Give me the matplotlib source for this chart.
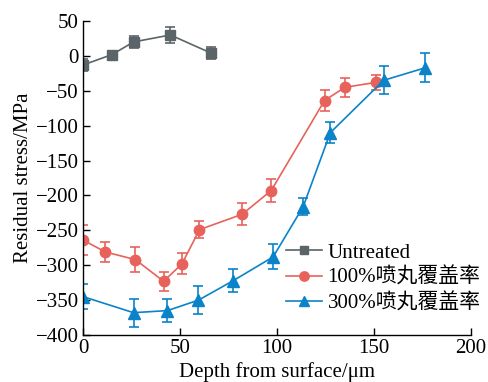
import matplotlib
matplotlib.use("Agg")
import matplotlib.pyplot as plt
from matplotlib.lines import Line2D

plt.rcParams['font.family'] = ['Liberation Serif', 'Noto Sans CJK SC']

# Untreated
x_un = [0, 15, 26, 45, 66]
y_un = [-13, 2, 20, 30, 4]
e_un = [9, 5, 8, 12, 9]

# 100% coverage
x_100 = [0, 11.5, 27, 41.5, 51, 60, 82, 97, 124.5, 135, 151]
y_100 = [-264, -281, -292, -323, -298, -249, -227, -193, -64, -45, -38]
e_100 = [21, 15, 18, 14, 15, 12, 16, 17, 15, 14, 11]

# 300% coverage
x_300 = [0, 26, 43.5, 59.5, 77.5, 98, 113.5, 127.5, 155, 176.5]
y_300 = [-345, -368, -365, -350, -322, -288, -216, -110, -35, -17]
e_300 = [18, 20, 16, 20, 16, 18, 12, 15, 20, 21]

labels = ['Untreated', '100%喷丸覆盖率', '300%喷丸覆盖率']
xticks = [0, 50, 100, 150, 200]
yticks = [-400, -350, -300, -250, -200, -150, -100, -50, 0, 50]

c_un = '#5b6468'
c_100 = '#e8625c'
c_300 = '#0a83c9'

fig = plt.figure(figsize=(4.89, 3.82), dpi=100)
ax = fig.add_axes([0.170, 0.123, 0.793, 0.822])

kw = dict(lw=1.2, elinewidth=1.2, capsize=3.5, capthick=1.2)
series = [(x_un, y_un, e_un, c_un, 's', 6.5),
          (x_100, y_100, e_100, c_100, 'o', 7.5),
          (x_300, y_300, e_300, c_300, '^', 8)]
handles = []
for (xs, ys, es, c, m, ms), lab in zip(series, labels):
    ax.errorbar(xs, ys, yerr=es, color=c, marker=m, ms=ms, **kw)
    handles.append(Line2D([], [], color=c, marker=m, ms=ms * 0.9, lw=1.2, label=lab))

ax.set_xlim(0, 200)
ax.set_ylim(-400, 50)
ax.set_xticks(xticks)
ax.set_yticks(yticks)
ax.set_yticklabels([str(v).replace('-', '−') for v in yticks])
for s in ['top', 'right']:
    ax.spines[s].set_visible(False)
for s in ['left', 'bottom']:
    ax.spines[s].set_linewidth(1.0)
ax.tick_params(direction='in', length=5, width=1.0, labelsize=15, pad=3)
ax.set_xlabel('Depth from surface/μm', fontsize=15, labelpad=3)
ax.set_ylabel('Residual stress/MPa', fontsize=15, labelpad=2)

leg = ax.legend(handles=handles, loc='upper left', bbox_to_anchor=(286/489, 1 - 243/382),
                bbox_transform=fig.transFigure, frameon=False, fontsize=15,
                handlelength=1.75, handletextpad=0.25, labelspacing=0.25,
                borderpad=0, borderaxespad=0)

fig.savefig('out.png', dpi=100)
